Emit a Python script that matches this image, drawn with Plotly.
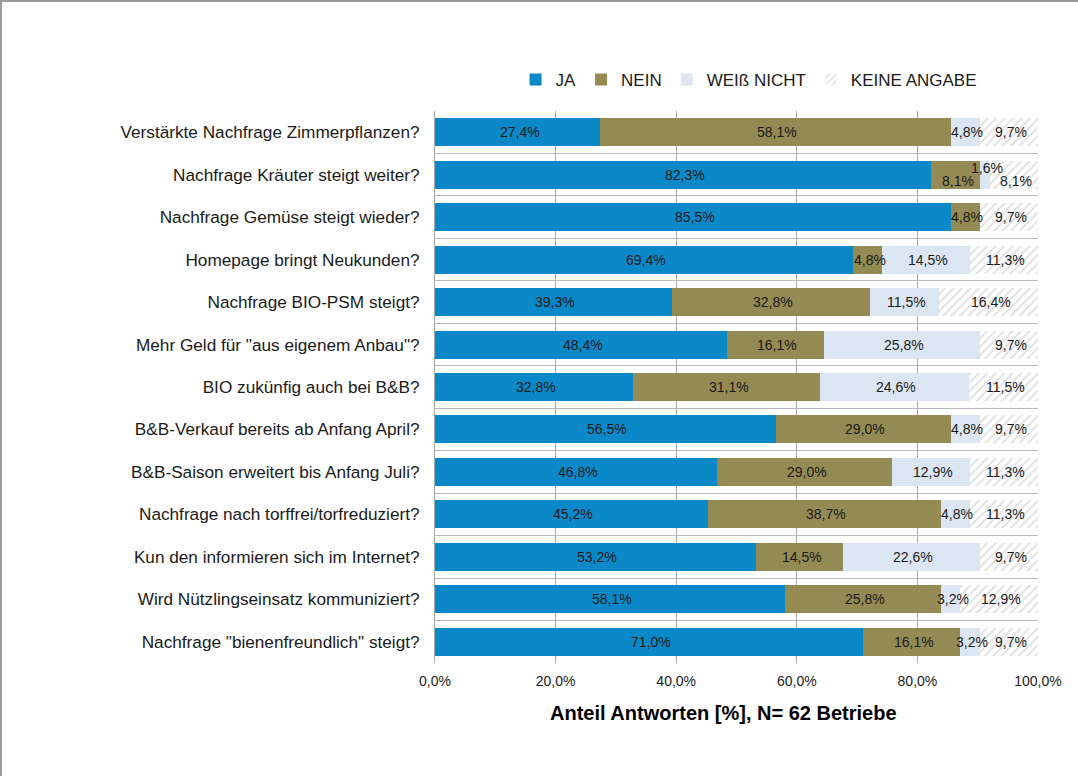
import plotly.graph_objects as go

categories = [
    "Verstärkte Nachfrage Zimmerpflanzen?",
    "Nachfrage Kräuter steigt weiter?",
    "Nachfrage Gemüse steigt wieder?",
    "Homepage bringt Neukunden?",
    "Nachfrage BIO-PSM steigt?",
    "Mehr Geld für \"aus eigenem Anbau\"?",
    "BIO zukünfig auch bei B&B?",
    "B&B-Verkauf bereits ab Anfang April?",
    "B&B-Saison erweitert bis Anfang Juli?",
    "Nachfrage nach torffrei/torfreduziert?",
    "Kun den informieren sich im Internet?",
    "Wird Nützlingseinsatz kommuniziert?",
    "Nachfrage \"bienenfreundlich\" steigt?",
]
ja = [27.4, 82.3, 85.5, 69.4, 39.3, 48.4, 32.8, 56.5, 46.8, 45.2, 53.2, 58.1, 71.0]
nein = [58.1, 8.1, 4.8, 4.8, 32.8, 16.1, 31.1, 29.0, 29.0, 38.7, 14.5, 25.8, 16.1]
weiss_nicht = [4.8, 1.6, 0.0, 14.5, 11.5, 25.8, 24.6, 4.8, 12.9, 4.8, 22.6, 3.2, 3.2]
keine_angabe = [9.7, 8.1, 9.7, 11.3, 16.4, 9.7, 11.5, 9.7, 11.3, 11.3, 9.7, 12.9, 9.7]
series_names = ["JA", "NEIN", "WEIß NICHT", "KEINE ANGABE"]
x_ticks = [0, 20, 40, 60, 80, 100]
x_ticktext = ["0,0%", "20,0%", "40,0%", "60,0%", "80,0%", "100,0%"]

W, H = 1078, 776
ML, MR, MT, MB = 435, 40, 111, 113
PW, PH = W - ML - MR, H - MT - MB

FONT = "Liberation Sans, Arial, sans-serif"
colors = ["#0A88C8", "#948A54", "#DCE6F2", "#FFFFFF"]

fig = go.Figure()
all_series = [ja, nein, weiss_nicht, keine_angabe]
for i, (name, vals) in enumerate(zip(series_names, all_series)):
    marker = dict(color=colors[i], line=dict(width=0))
    if i == 3:
        marker = dict(color="#FFFFFF", line=dict(width=0),
                      pattern=dict(shape="/", fgcolor="#BDBDBD", bgcolor="#FFFFFF",
                                   size=6, solidity=0.3))
    fig.add_trace(go.Bar(y=categories, x=vals, name=name, orientation="h",
                         marker=marker, hoverinfo="x+y"))

# data labels
label_shift = {(1, 1): -6, (1, 2): 7, (1, 3): -6}
annotations = []
for ci, cat in enumerate(categories):
    cum = 0.0
    for si, vals in enumerate(all_series):
        v = vals[ci]
        if v > 0:
            annotations.append(dict(
                x=cum + v / 2, y=cat, xref="x", yref="y",
                text=f"{v:.1f}%".replace(".", ","), showarrow=False,
                font=dict(family=FONT, size=14, color="#1A1A1A"),
                yshift=label_shift.get((ci, si), 0), xshift=2,
            ))
        cum += v

# axis title
annotations.append(dict(
    x=0.5, y=-(713 - (MT + PH)) / PH, xref="paper", yref="paper",
    text="<b>Anteil Antworten [%], N= 62 Betriebe</b>", showarrow=False,
    font=dict(family=FONT, size=20, color="#000000"), yanchor="middle",
    xshift=-13,
))

# outer border (top and left edges of the picture)
shapes = [
    dict(type="line", xref="paper", yref="paper",
         x0=(0 - ML) / PW, x1=(W - ML) / PW,
         y0=(MT + PH - 1) / PH, y1=(MT + PH - 1) / PH,
         line=dict(color="#9A9A9A", width=2)),
    dict(type="line", xref="paper", yref="paper",
         x0=(1 - ML) / PW, x1=(1 - ML) / PW,
         y0=(MT + PH) / PH, y1=(MT + PH - H) / PH,
         line=dict(color="#9A9A9A", width=2)),
]

fig.update_layout(
    width=W, height=H,
    margin=dict(l=ML, r=MR, t=MT, b=MB),
    barmode="stack", bargap=0.34,
    paper_bgcolor="white", plot_bgcolor="white",
    font=dict(family=FONT, size=14, color="#1A1A1A"),
    legend=dict(orientation="h", x=0.52, xanchor="center",
                y=(MT + PH - 80) / PH, yanchor="middle",
                font=dict(family=FONT, size=17, color="#1A1A1A"),
                traceorder="normal", itemwidth=30),
    annotations=annotations,
    shapes=shapes,
    showlegend=True,
)
fig.update_xaxes(range=[0, 100], tickvals=x_ticks, ticktext=x_ticktext,
                 showgrid=True, gridcolor="#A6A6A6", gridwidth=1,
                 zeroline=False, showline=False, ticks="",
                 tickfont=dict(family=FONT, size=14, color="#1A1A1A"),
                 ticklabelstandoff=8)
fig.update_yaxes(categoryorder="array", categoryarray=categories,
                 autorange="reversed", tickson="boundaries",
                 showgrid=True, gridcolor="#B8B8B8", gridwidth=1,
                 showline=True, linecolor="#A6A6A6", linewidth=1,
                 ticks="", ticklabelstandoff=11,
                 tickfont=dict(family=FONT, size=17.2, color="#1A1A1A"))

fig.write_html("out.html", config={"displayModeBar": False},
               post_script="document.body.style.margin='0';document.body.style.padding='0';")
